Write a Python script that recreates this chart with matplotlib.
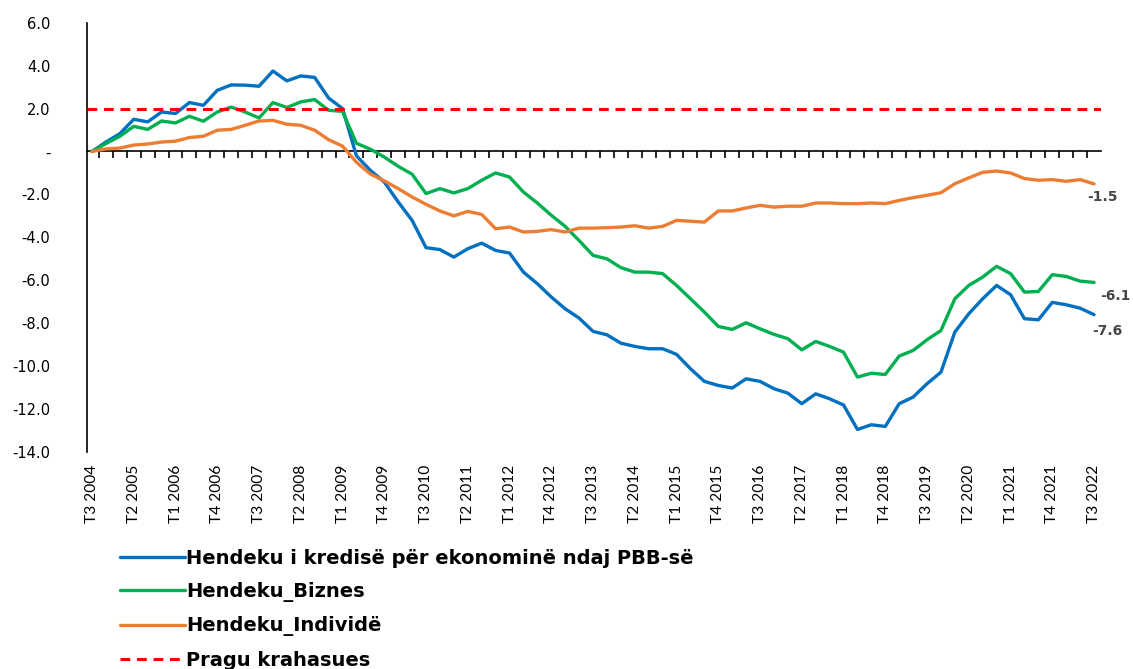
import matplotlib
matplotlib.use("Agg")
import matplotlib.pyplot as plt
import numpy as np

# ---- data -------------------------------------------------------------
tick_labels = ["T3 2004", "T2 2005", "T1 2006", "T4 2006", "T3 2007", "T2 2008",
               "T1 2009", "T4 2009", "T3 2010", "T2 2011", "T1 2012", "T4 2012",
               "T3 2013", "T2 2014", "T1 2015", "T4 2015", "T3 2016", "T2 2017",
               "T1 2018", "T4 2018", "T3 2019", "T2 2020", "T1 2021", "T4 2021",
               "T3 2022"]

credit_gap = [0.0, 0.44, 0.83, 1.50, 1.38, 1.84, 1.77, 2.28, 2.15, 2.85, 3.10, 3.09,
              3.04, 3.75, 3.29, 3.52, 3.45, 2.49, 2.0,
              -0.2, -0.88, -1.42, -2.35, -3.21, -4.48, -4.57, -4.92, -4.53, -4.27,
              -4.61, -4.73, -5.62, -6.16, -6.78, -7.33, -7.76,
              -8.38, -8.54, -8.93, -9.08, -9.19, -9.19, -9.45, -10.12, -10.71, -10.90,
              -11.02, -10.59, -10.71, -11.05, -11.26, -11.75, -11.29, -11.52,
              -11.81, -12.95, -12.73, -12.81, -11.75, -11.44, -10.82, -10.28, -8.41,
              -7.56, -6.86, -6.24, -6.67, -7.79, -7.84, -7.03, -7.14, -7.30, -7.60]

business_gap = [0.0, 0.37, 0.71, 1.17, 1.03, 1.42, 1.33, 1.64, 1.41, 1.84, 2.07, 1.84,
                1.56, 2.28, 2.05, 2.31, 2.42, 1.92, 1.87,
                0.38, 0.11, -0.26, -0.69, -1.06, -1.96, -1.73, -1.93, -1.73, -1.34,
                -1.00, -1.19, -1.89, -2.40, -2.97, -3.49, -4.15,
                -4.84, -5.0, -5.41, -5.62, -5.62, -5.69, -6.24, -6.86, -7.48, -8.15,
                -8.29, -7.98, -8.26, -8.52, -8.72, -9.24, -8.85, -9.08,
                -9.35, -10.51, -10.33, -10.39, -9.53, -9.27, -8.77, -8.34, -6.86,
                -6.24, -5.85, -5.35, -5.69, -6.55, -6.52, -5.74, -5.82, -6.04, -6.10]

household_gap = [0.0, 0.12, 0.16, 0.30, 0.35, 0.44, 0.48, 0.65, 0.71, 0.99, 1.03, 1.22,
                 1.42, 1.45, 1.27, 1.22, 0.99, 0.55, 0.25,
                 -0.5, -1.05, -1.37, -1.73, -2.12, -2.46, -2.77, -3.0, -2.79, -2.93,
                 -3.60, -3.52, -3.75, -3.72, -3.64, -3.75, -3.57,
                 -3.57, -3.55, -3.52, -3.46, -3.57, -3.49, -3.21, -3.25, -3.29, -2.77,
                 -2.77, -2.63, -2.51, -2.59, -2.55, -2.55, -2.40, -2.40,
                 -2.43, -2.43, -2.40, -2.43, -2.28, -2.15, -2.04, -1.92, -1.50,
                 -1.23, -0.97, -0.91, -1.0, -1.26, -1.34, -1.31, -1.39, -1.31, -1.51]

threshold = 2.0

series_names = ["Hendeku i kredisë për ekonominë ndaj PBB-së", "Hendeku_Biznes",
                "Hendeku_Individë", "Pragu krahasues"]
colors = ["#0070C0", "#00B050", "#ED7D31", "#FF0000"]

y_ticks = [6, 4, 2, 0, -2, -4, -6, -8, -10, -12, -14]
y_tick_labels = ["6.0", "4.0", "2.0", "-", "-2.0", "-4.0", "-6.0", "-8.0",
                 "-10.0", "-12.0", "-14.0"]

# ---- figure -----------------------------------------------------------
W, H = 1133, 669
fig = plt.figure(figsize=(W / 100, H / 100), dpi=100)
ax = fig.add_axes([87 / W, 1 - 452 / H, (1101 - 87) / W, (452 - 22.7) / H])

n = len(credit_gap)
x = np.arange(n)

lw = 2.4
l1, = ax.plot(x, credit_gap, color=colors[0], lw=lw, solid_capstyle="round",
              solid_joinstyle="round", zorder=3)
l2, = ax.plot(x, business_gap, color=colors[1], lw=lw, solid_capstyle="round",
              solid_joinstyle="round", zorder=4)
l3, = ax.plot(x, household_gap, color=colors[2], lw=lw, solid_capstyle="round",
              solid_joinstyle="round", zorder=5)
l4 = ax.axhline(threshold, color=colors[3], lw=2.2, ls=(0, (3.2, 2.2)), zorder=6)

ax.set_xlim(-0.36, n - 1 + 0.5)
ax.set_ylim(-14, 6)

# spines
for s in ["top", "right"]:
    ax.spines[s].set_visible(False)
ax.spines["left"].set_linewidth(1.2)
ax.spines["bottom"].set_position(("data", 0))
ax.spines["bottom"].set_linewidth(1.2)

# y axis
ax.set_yticks(y_ticks)
ax.set_yticklabels(y_tick_labels, fontsize=10.5, color="#000000")
ax.tick_params(axis="y", length=0, pad=26.5)
for lab in ax.get_yticklabels():
    lab.set_horizontalalignment("right")

# x axis: small ticks on the zero line between quarters
ax.set_xticks(x[:-1] + 0.5)
ax.set_xticklabels([])
ax.tick_params(axis="x", direction="out", length=5, width=1.2, color="black")

# tick labels at the bottom
sec = ax.secondary_xaxis(0)
sec.set_xticks(x[::3])
sec.set_xticklabels(tick_labels, rotation=90,
                    fontfamily=["Lato", "Liberation Sans", "DejaVu Sans"],
                    fontsize=11.2)
sec.tick_params(axis="x", length=0, pad=9)
sec.spines["bottom"].set_visible(False)

# end labels
lab_kw = dict(fontsize=10, fontweight="bold", color="#454545", va="center",
              ha="left", clip_on=False)
ax.annotate(f"{household_gap[-1]:.1f}", (x[-1], household_gap[-1]),
            xytext=(-5, -9.4), textcoords="offset points", **lab_kw)
ax.annotate(f"{business_gap[-1]:.1f}", (x[-1], business_gap[-1]),
            xytext=(4.8, -10), textcoords="offset points", **lab_kw)
ax.annotate(f"{credit_gap[-1]:.1f}", (x[-1], credit_gap[-1]),
            xytext=(-1.5, -12), textcoords="offset points", **lab_kw)

# legend
fig.legend([l1, l2, l3, l4], series_names, loc="upper left",
           bbox_to_anchor=(112.2 / W, 1 - 541 / H), frameon=False,
           prop={"family": "DejaVu Sans", "weight": "bold", "size": 14},
           handlelength=3.34, handletextpad=0.08, labelspacing=0.735,
           borderaxespad=0)

fig.savefig("out.png", dpi=100)
